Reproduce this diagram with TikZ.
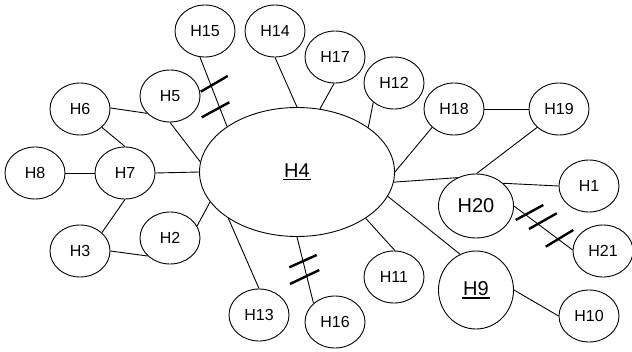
\documentclass[tikz,border=0pt]{standalone}
\usepackage{fontspec}
\setmainfont{Liberation Sans}
\usetikzlibrary{shapes.geometric}
\newcommand\myul[1]{\setbox0\hbox{#1}\rlap{\hspace{-1pt}\rule[-3.2pt]{\dimexpr\wd0+2pt\relax}{1.4pt}}\box0}
\tikzset{
  hap/.style={ellipse, draw, line width=0.9pt, fill=white, inner sep=0pt,
    minimum width=60pt, minimum height=52pt, font=\fontsize{16}{18}\selectfont},
  bighap/.style={hap, font=\fontsize{20}{22}\selectfont},
  link/.style={line width=0.9pt},
  hashmark/.style={line width=2.4pt}
}
\begin{document}
\begin{tikzpicture}[x=1pt,y=-1pt]
\useasboundingbox (0,0) rectangle (632,351);
% nodes
\node[bighap, minimum width=195pt, minimum height=129pt] (H4) at (297,172) {\myul{H4}};
\node[hap] (H15) at (205,31) {H15};
\node[hap] (H14) at (275,31) {H14};
\node[hap] (H17) at (335,57) {H17};
\node[hap] (H12) at (394,83) {H12};
\node[hap] (H18) at (454,109) {H18};
\node[hap] (H19) at (559,109) {H19};
\node[hap] (H5) at (170,96) {H5};
\node[hap] (H6) at (80,109) {H6};
\node[hap] (H7) at (125,173) {H7};
\node[hap] (H8) at (35,173) {H8};
\node[hap] (H3) at (80,251) {H3};
\node[hap] (H2) at (170,238) {H2};
\node[hap] (H13) at (259,315) {H13};
\node[hap] (H16) at (335,322) {H16};
\node[hap] (H11) at (394,277) {H11};
\node[bighap, minimum width=75pt, minimum height=78pt] (H9) at (476,290) {\myul{H9}};
\node[hap] (H10) at (589,316) {H10};
\node[bighap, minimum width=75pt, minimum height=64pt] (H20) at (476,206) {H20};
\node[hap] (H1) at (589,186) {H1};
\node[hap] (H21) at (603,251) {H21};
% connectors
\begin{scope}[on background layer/.style={}]
\draw[link] (H15.259) -- (H4.147);
\draw[link] (H14.270) -- (H4.90);
\draw[link] (H17.268) -- (H4.70.5);
\draw[link] (H12.223.6) -- (H4.32.2);
\draw[link] (H18.220.8) -- (H4.0);
\draw[link] (H18.0) -- (H19.180);
\draw[link] (H19.220.8) -- (H20.89);
\draw[link] (H4.354.2) -- (H20.123.2);
\draw[link] (H20.40.4) -- (H1.180);
\draw[link] (H20.0) -- (H21.178);
\draw[link] (H4.345) -- (H9.114.7);
\draw[link] (H9.0) -- (H10.180);
\draw[link] (H4.326.1) -- (H11.88);
\draw[link] (H4.270) -- (H16.139.2);
\draw[link] (H4.214.8) -- (H13.90);
\draw[link] (H4.199.2) -- (H2.24.9);
\draw[link] (H4.180) -- (H7.0);
\draw[link] (H4.174.1) -- (H5.270);
\draw[link] (H5.217.7) -- (H6.2);
\draw[link] (H6.320.7) -- (H7.90);
\draw[link] (H7.180) -- (H8.0);
\draw[link] (H7.270) -- (H3.40.8);
\draw[link] (H3.0) -- (H2.219.3);
\end{scope}
% hash marks
\draw[hashmark] (200.7,91.7) -- (227.7,76);
\draw[hashmark] (201.7,117.3) -- (229.3,102.3);
\draw[hashmark] (289.3,267.3) -- (316.7,255);
\draw[hashmark] (290,284) -- (319.3,270);
\draw[hashmark] (515.7,220) -- (543.3,205);
\draw[hashmark] (529,229) -- (556.7,213.3);
\draw[hashmark] (545.7,246.7) -- (573.3,230);
\end{tikzpicture}
\end{document}
